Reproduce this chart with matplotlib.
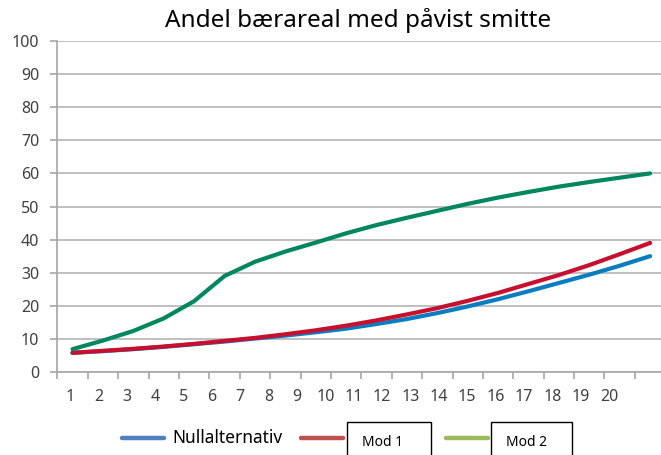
import numpy as np
import matplotlib.pyplot as plt
from matplotlib.lines import Line2D
from matplotlib.patches import Rectangle

plt.rcParams['font.family'] = ['Noto Sans', 'DejaVu Sans']

# data
periods = list(range(1, 21))
nullalt = [5.8, 6.3, 6.9, 7.6, 8.4, 9.2, 10.1, 11.0, 12.0, 13.1,
           14.5, 16.0, 17.8, 19.8, 22.0, 24.4, 26.9, 29.4, 32.1, 35.0]
mod1 = [5.8, 6.4, 7.0, 7.7, 8.5, 9.4, 10.3, 11.4, 12.6, 14.0,
        15.6, 17.4, 19.3, 21.5, 23.9, 26.6, 29.3, 32.3, 35.6, 39.0]
mod2 = [6.9, 9.5, 12.4, 16.2, 21.4, 29.0, 33.3, 36.4, 39.1, 41.9,
        44.4, 46.6, 48.7, 50.8, 52.7, 54.4, 56.0, 57.4, 58.7, 60.0]
tick_labels = [str(p) for p in periods]
yticks = list(range(0, 101, 10))

fig = plt.figure(figsize=(6.61, 4.55), dpi=100)
ax = fig.add_axes([0.0867, 0.1824, 0.9198, 0.7275])

ax.plot(periods, nullalt, color='#0a7cc0', lw=3.0, solid_capstyle='round', zorder=3)
ax.plot(periods, mod1, color='#c8102e', lw=3.0, solid_capstyle='round', zorder=4)
ax.plot(periods, mod2, color='#00875f', lw=3.0, solid_capstyle='round', zorder=5)

ax.set_xlim(0.5, 20.5)
ax.set_ylim(0, 100)
ax.set_yticks(yticks)
ax.set_yticklabels([str(v) for v in yticks])
ax.yaxis.grid(True, color='#b4b4b4', lw=1.2)
ax.set_axisbelow(True)

# tick marks between categories, labels drawn slightly compressed like the original
ax.set_xticks(np.arange(0.5, 20.6, 1.0))
ax.set_xticklabels([])
lab_px = 70 + 28.37 * np.arange(len(periods))
ax.set_xticks(0.5 + (lab_px - 57.3) / 30.4, minor=True)
ax.set_xticklabels(tick_labels, minor=True)
ax.tick_params(axis='x', which='major', length=5, width=1.2, color='#a6a6a6', direction='out')
ax.tick_params(axis='x', which='minor', length=0, pad=12, labelsize=11.5, labelcolor='#404040')
ax.tick_params(axis='y', length=5, width=1.2, color='#a6a6a6', pad=8, labelsize=11.5, labelcolor='#404040')

for s in ['top', 'right']:
    ax.spines[s].set_visible(False)
for s in ['left', 'bottom']:
    ax.spines[s].set_color('#a6a6a6')
    ax.spines[s].set_linewidth(1.2)

fig.text(0.542, 0.955, 'Andel bærareal med påvist smitte', ha='center', va='center',
         fontsize=17.5, color='#000000')

# legend drawn by hand
W, H = 661.0, 455.0
def fx(px):
    return px / W
def fy(py):
    return 1 - py / H

ly = 438
for x0, x1, c in [(122, 164, '#4f81bd'), (301, 343, '#c0504d'), (446, 488, '#9bbb59')]:
    fig.add_artist(Line2D([fx(x0), fx(x1)], [fy(ly), fy(ly)], color=c, lw=3.2,
                          solid_capstyle='round'))
fig.text(fx(172), fy(ly), 'Nullalternativ', ha='left', va='center', fontsize=12.5, color='#000000')
for bx0, bx1, label in [(347, 431, 'Mod 1'), (491, 572, 'Mod 2')]:
    fig.add_artist(Rectangle((fx(bx0), fy(470)), fx(bx1) - fx(bx0), fy(422) - fy(470),
                             facecolor='white', edgecolor='black', lw=1.0))
    fig.text(fx(bx0 + 15), fy(442), label, ha='left', va='center', fontsize=10, color='#000000')

fig.savefig('out.png', dpi=100)
